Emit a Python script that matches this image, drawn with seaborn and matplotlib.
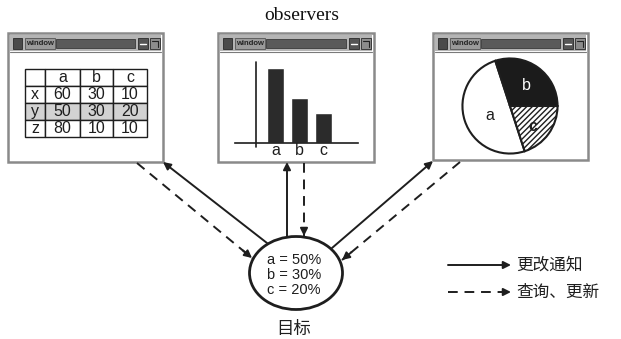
import matplotlib

matplotlib.use("Agg")
import matplotlib.pyplot as plt
import seaborn as sns
from matplotlib.patches import Ellipse, Rectangle

# subject state shared by all observers
categories = ["a", "b", "c"]
shares = [50, 30, 20]

# spreadsheet observer
row_labels = ["x", "y", "z"]
table_values = [[60, 30, 10], [50, 30, 20], [80, 10, 10]]

title_text = "observers"
subject_label = "目标"
legend_labels = ["更改通知", "查询、更新"]

W, H = 621, 339
INK = "#1e1e1e"
CJK = ["Noto Sans CJK SC", "DejaVu Sans"]

sns.set_theme(style="white")
plt.rcParams["font.family"] = ["Liberation Sans", "Noto Sans CJK SC", "DejaVu Sans"]


def px_axes(fig, x0, y0, x1, y1):
    # inset axes placed by pixel box (origin top-left)
    return fig.add_axes([x0 / W, 1 - y1 / H, (x1 - x0) / W, (y1 - y0) / H])


def draw_window(ax, x0, y0, x1, y1):
    ax.add_patch(Rectangle((x0, y0), x1 - x0, y1 - y0, facecolor="white",
                           edgecolor="#8a8a8a", lw=1.8, zorder=1))
    # title bar
    ax.add_patch(Rectangle((x0 + 2, y0 + 2), x1 - x0 - 4, 16, facecolor="#b5b5b5",
                           edgecolor="none", zorder=2))
    ax.add_patch(Rectangle((x0 + 5, y0 + 5), 9, 11, facecolor="#4a4a4a",
                           edgecolor="#2a2a2a", lw=0.6, zorder=3))
    ax.add_patch(Rectangle((x0 + 17, y0 + 5), 30, 11, facecolor="#9a9a9a",
                           edgecolor="#555555", lw=0.6, zorder=3))
    ax.text(x0 + 18.5, y0 + 10.5, "window", fontsize=5.5, fontweight="bold",
            color="#222222", va="center", ha="left", zorder=4)
    ax.add_patch(Rectangle((x0 + 48, y0 + 6), x1 - x0 - 76, 9, facecolor="#5a5a5a",
                           edgecolor="#3a3a3a", lw=0.6, zorder=3))
    ax.add_patch(Rectangle((x1 - 25, y0 + 5), 10, 11, facecolor="#555555",
                           edgecolor="#2a2a2a", lw=0.6, zorder=3))
    ax.plot([x1 - 23, x1 - 17], [y0 + 10.5, y0 + 10.5], color="white", lw=1, zorder=4)
    ax.add_patch(Rectangle((x1 - 13, y0 + 5), 10, 11, facecolor="#8c8c8c",
                           edgecolor="#2a2a2a", lw=0.6, zorder=3))
    ax.plot([x1 - 11, x1 - 5, x1 - 5], [y0 + 8, y0 + 8, y0 + 14], color="#222222",
            lw=0.8, zorder=4)
    ax.plot([x0 + 2, x1 - 2], [y0 + 18.5, y0 + 18.5], color="#7a7a7a", lw=0.8, zorder=3)


def arrow(ax, start, end, dashed=False):
    if dashed:
        ax.plot([start[0], end[0]], [start[1], end[1]], color=INK, lw=1.4,
                dashes=(5, 3.5), zorder=2)
        dx, dy = end[0] - start[0], end[1] - start[1]
        start = (end[0] - dx * 0.08, end[1] - dy * 0.08)
    ax.annotate("", xy=end, xytext=start,
                arrowprops=dict(arrowstyle="-|>", lw=1.4, color=INK,
                                shrinkA=0, shrinkB=0, mutation_scale=11),
                zorder=3)


fig = plt.figure(figsize=(W / 100, H / 100), dpi=100)
ax = fig.add_axes([0, 0, 1, 1])
ax.set_xlim(0, W)
ax.set_ylim(H, 0)
ax.axis("off")

ax.text(302, 16, title_text, fontsize=14, family="Liberation Serif",
        ha="center", va="center", color="#111111")

windows = [(8, 33, 163, 162), (218, 33, 374, 162), (433, 33, 588, 160)]
for win in windows:
    draw_window(ax, *win)

# table observer
tab_ax = px_axes(fig, 25, 69, 147, 137)
tab_ax.axis("off")
cell_text = [[""] + categories] + [[r] + [str(v) for v in vals]
                                   for r, vals in zip(row_labels, table_values)]
cell_colours = [["white"] * 4 for _ in cell_text]
cell_colours[2] = ["#d2d2d2"] * 4
tbl = tab_ax.table(cellText=cell_text, cellColours=cell_colours, cellLoc="center",
                   bbox=[0, 0, 1, 1], colWidths=[20 / 122, 35 / 122, 33 / 122, 34 / 122])
tbl.auto_set_font_size(False)
tbl.set_fontsize(11.5)
for cell in tbl.get_celld().values():
    cell.set_linewidth(1.0)
    cell.set_edgecolor(INK)
    cell.get_text().set_color(INK)

# bar chart observer
bar_ax = px_axes(fig, 235, 60, 358, 143)
sns.barplot(x=categories, y=shares, color="#2b2b2b", saturation=1, width=0.7,
            ax=bar_ax)
bar_ax.set_xlim(-1.69, 3.44)
bar_ax.set_ylim(0, 55.3)
bar_ax.set_facecolor("none")
for side in ["top", "right", "left"]:
    bar_ax.spines[side].set_visible(False)
bar_ax.spines["bottom"].set_color(INK)
bar_ax.spines["bottom"].set_linewidth(1.2)
bar_ax.set_yticks([])
bar_ax.tick_params(axis="x", length=0, pad=0, labelsize=11.5, colors=INK)
bar_ax.set(xlabel="", ylabel="")
bar_ax.plot([-0.81, -0.81], [-2.7, 54], color=INK, lw=1.2, clip_on=False)

# pie chart observer
pie_ax = px_axes(fig, 461.5, 57.5, 558.5, 154.5)
wedges, _ = pie_ax.pie(shares, colors=["white", "#1b1b1b", "white"], startangle=288,
                       counterclock=False, radius=1,
                       wedgeprops=dict(edgecolor=INK, linewidth=1.5))
wedges[2].set_hatch("//////")
pie_ax.set_xlim(-1.02, 1.02)
pie_ax.set_ylim(-1.02, 1.02)
pie_ax.text(-0.43, -0.19, categories[0], fontsize=11.5, ha="center", va="center",
            color=INK)
pie_ax.text(0.35, 0.43, categories[1], fontsize=11.5, ha="center", va="center",
            color="white")
pie_ax.text(0.47, -0.43, categories[2], fontsize=11.5, ha="center", va="center",
            color=INK, fontweight="bold",
            bbox=dict(boxstyle="circle,pad=0.05", facecolor="white", edgecolor="none",
                      alpha=0.0))

# subject
ax.add_patch(Ellipse((296, 273), 93, 73, facecolor="white", edgecolor=INK,
                     lw=2, zorder=4))
for i, (cat, share) in enumerate(zip(categories, shares)):
    ax.text(267, 260 + 15 * i, f"{cat} = {share}%", fontsize=10.5, ha="left",
            va="center", color=INK, zorder=5)
ax.text(294, 329, subject_label, fontsize=12.5, family=CJK, ha="center",
        va="center", color=INK)

# notifications and queries
arrow(ax, (267, 243), (163, 162))
arrow(ax, (137, 163), (252, 258), dashed=True)
arrow(ax, (287, 238), (287, 162))
arrow(ax, (304, 163), (304, 236), dashed=True)
arrow(ax, (332, 248), (433, 161))
arrow(ax, (460, 162), (342, 260), dashed=True)

# legend
arrow(ax, (448, 265), (511, 265))
arrow(ax, (448, 292), (511, 292), dashed=True)
ax.text(516, 265, legend_labels[0], fontsize=12, family=CJK, ha="left",
        va="center", color=INK)
ax.text(516, 292, legend_labels[1], fontsize=12, family=CJK, ha="left",
        va="center", color=INK)

fig.savefig("out.png", dpi=100)
